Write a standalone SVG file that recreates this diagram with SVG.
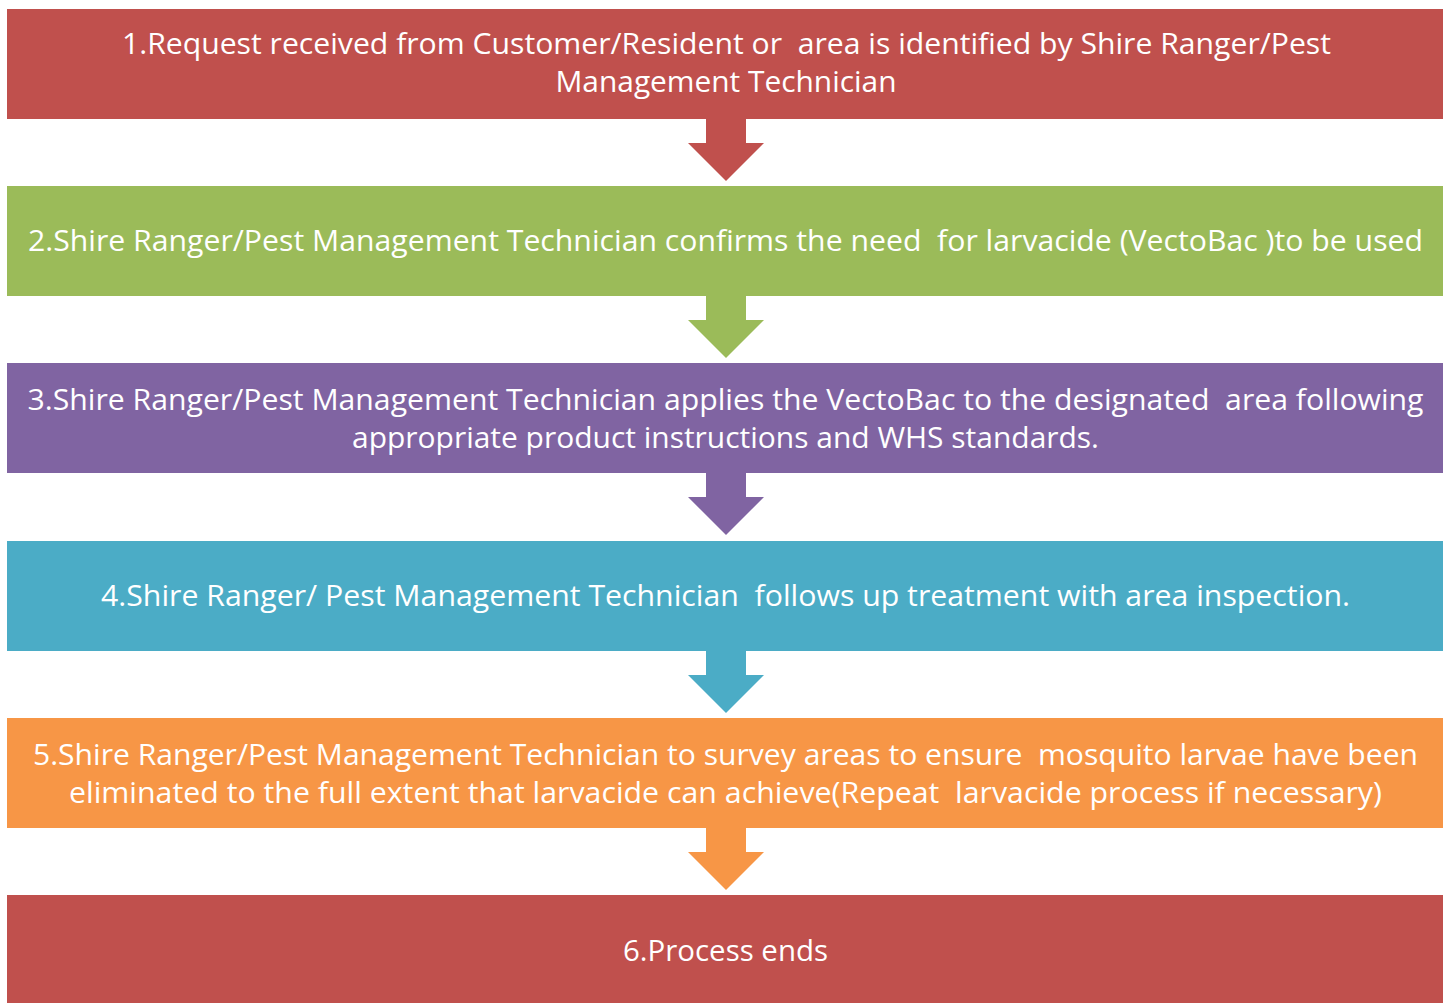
<svg xmlns="http://www.w3.org/2000/svg" width="1443" height="1003" viewBox="0 0 1443 1003">
<style>
.lbl{font-family:"Open Sans","Liberation Sans",sans-serif;font-size:30px;fill:#ffffff;text-anchor:middle;white-space:pre}
.red{fill:#C0504D}.green{fill:#9BBB59}.purple{fill:#8064A2}.blue{fill:#4BACC6}.orange{fill:#F79646}
</style>
<rect width="1443" height="1003" fill="#ffffff"/>
<g id="connectors">
<path class="red" d="M706,118 L746,118 L746,143 L764,143 L726,181 L688,143 L706,143 Z"/>
<path class="green" d="M706,295 L746,295 L746,320 L764,320 L726,358 L688,320 L706,320 Z"/>
<path class="purple" d="M706,472 L746,472 L746,497 L764,497 L726,535 L688,497 L706,497 Z"/>
<path class="blue" d="M706,650 L746,650 L746,675 L764,675 L726,713 L688,675 L706,675 Z"/>
<path class="orange" d="M706,827 L746,827 L746,852 L764,852 L726,890 L688,852 L706,852 Z"/>
</g>
<g id="step1">
<rect class="red" x="7" y="9" width="1436" height="110"/>
<text class="lbl" x="726.5" y="54.3" textLength="1209" lengthAdjust="spacingAndGlyphs">1.Request received from Customer/Resident or  area is identified by Shire Ranger/Pest</text>
<text class="lbl" x="726" y="92" textLength="341" lengthAdjust="spacingAndGlyphs">Management Technician</text>
</g>
<g id="step2">
<rect class="green" x="7" y="186" width="1436" height="110"/>
<text class="lbl" x="725.5" y="250.7" textLength="1395" lengthAdjust="spacingAndGlyphs">2.Shire Ranger/Pest Management Technician confirms the need  for larvacide (VectoBac )to be used</text>
</g>
<g id="step3">
<rect class="purple" x="7" y="363" width="1436" height="110"/>
<text class="lbl" x="725.5" y="410" textLength="1396" lengthAdjust="spacingAndGlyphs">3.Shire Ranger/Pest Management Technician applies the VectoBac to the designated  area following</text>
<text class="lbl" x="725.5" y="447.7" textLength="747" lengthAdjust="spacingAndGlyphs">appropriate product instructions and WHS standards.</text>
</g>
<g id="step4">
<rect class="blue" x="7" y="541" width="1436" height="110"/>
<text class="lbl" x="725.5" y="605.7" textLength="1249" lengthAdjust="spacingAndGlyphs">4.Shire Ranger/ Pest Management Technician  follows up treatment with area inspection.</text>
</g>
<g id="step5">
<rect class="orange" x="7" y="718" width="1436" height="110"/>
<text class="lbl" x="725.5" y="765" textLength="1385" lengthAdjust="spacingAndGlyphs">5.Shire Ranger/Pest Management Technician to survey areas to ensure  mosquito larvae have been</text>
<text class="lbl" x="725.5" y="802.6" textLength="1313" lengthAdjust="spacingAndGlyphs">eliminated to the full extent that larvacide can achieve(Repeat  larvacide process if necessary)</text>
</g>
<g id="step6">
<rect class="red" x="7" y="895" width="1436" height="112"/>
<text class="lbl" x="725.5" y="960.7" textLength="205" lengthAdjust="spacingAndGlyphs">6.Process ends</text>
</g>
</svg>
